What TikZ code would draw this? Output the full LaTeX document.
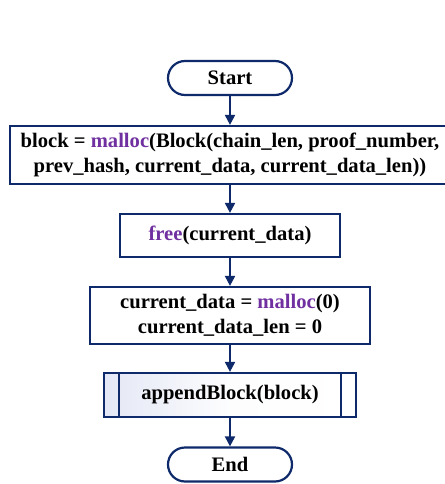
\documentclass[tikz,border=0pt]{standalone}
\usepackage{fontspec}
\setmainfont{Liberation Serif}
\usetikzlibrary{arrows.meta}
\definecolor{navy}{HTML}{0E2A6A}
\definecolor{fnpurple}{HTML}{7030A0}
\definecolor{shadeblue}{HTML}{E4E7F5}
\newcommand{\fn}[1]{\textcolor{fnpurple}{#1}}
\tikzset{
  x=1pt, y=1pt,
  base/.style={draw=navy, line width=2.2pt, align=center, font=\bfseries\fontsize{20.6}{25}\selectfont, inner sep=0pt},
  terminal/.style={base, rounded corners=17pt, minimum width=124pt, minimum height=34pt},
  procbox/.style={base, minimum height=#1},
  flow/.style={draw=navy, line width=2pt, -{Triangle[length=10pt,width=10pt]}}
}
\begin{document}
\begin{tikzpicture}
\useasboundingbox (0,0) rectangle (444,-484);
\node[terminal] (start) at (230,-78) {Start};
\node[procbox=58pt, minimum width=440pt] (alloc) at (230,-155)
  {block = \fn{malloc}(Block(chain\_len, proof\_number,\\prev\_hash, current\_data, current\_data\_len))};
\node[procbox=43pt, minimum width=220pt] (free) at (230,-235.5) {\fn{free}(current\_data)};
\node[procbox=57pt, minimum width=280pt] (reset) at (230,-315.5)
  {current\_data = \fn{malloc}(0)\\current\_data\_len = 0};
\node[procbox=44pt, minimum width=252pt, left color=shadeblue, right color=white, middle color=white!92!shadeblue] (append) at (230,-395) {appendBlock(block)};
\draw[navy, line width=2pt] ([xshift=16pt]append.north west) -- ([xshift=16pt]append.south west)
  ([xshift=-16pt]append.north east) -- ([xshift=-16pt]append.south east);
\node[terminal] (finish) at (230,-464.5) {End};
\draw[flow] (start) -- (alloc);
\draw[flow] (alloc) -- (free);
\draw[flow] (free) -- (reset);
\draw[flow] (reset) -- (append);
\draw[flow] (append) -- (finish);
\end{tikzpicture}
\end{document}
